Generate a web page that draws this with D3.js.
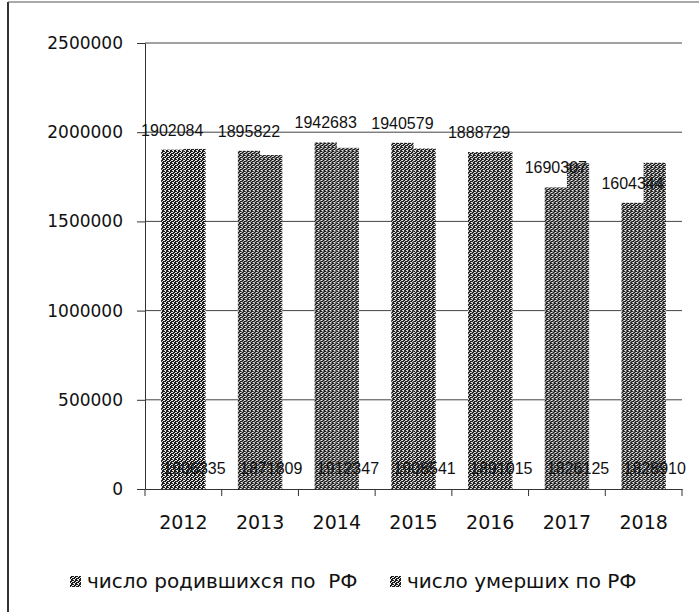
<!DOCTYPE html>
<html>
<head>
<meta charset="utf-8">
<script src="https://cdn.jsdelivr.net/npm/d3@7"></script>
<style>
  body { margin: 0; background: #fff; }
  svg { display: block; }
</style>
</head>
<body>
<div id="chart"></div>
<script>
const years = ['2012', '2013', '2014', '2015', '2016', '2017', '2018'];
const births = [1902084, 1895822, 1942683, 1940579, 1888729, 1690307, 1604344];
const deaths = [1906335, 1871809, 1912347, 1908541, 1891015, 1826125, 1828910];
const yTicks = [0, 500000, 1000000, 1500000, 2000000, 2500000];
const seriesNames = ['число родившихся по  РФ', 'число умерших по РФ'];

const W = 699;
const H = 612;
const margin = { top: 43, right: 17, bottom: 123, left: 145 };
const width = W - margin.left - margin.right;
const height = H - margin.top - margin.bottom;

const svg = d3
  .select('#chart')
  .append('svg')
  .attr('width', W)
  .attr('height', H);

// scanned-looking texture for the bars
const pat = svg
  .append('defs')
  .append('pattern')
  .attr('id', 'tex')
  .attr('width', 4)
  .attr('height', 4)
  .attr('patternUnits', 'userSpaceOnUse');
pat.append('rect').attr('width', 4).attr('height', 4).attr('fill', '#1c1c1c');
[[0, 0], [2, 1], [1, 2], [3, 3], [3, 1], [0, 3]].forEach(([px, py]) => {
  pat
    .append('rect')
    .attr('x', px)
    .attr('y', py)
    .attr('width', 1)
    .attr('height', 1)
    .attr('fill', '#e8e8e8');
});

// frame of the scan
svg
  .append('line')
  .attr('x1', 8)
  .attr('x2', 8)
  .attr('y1', 2)
  .attr('y2', H)
  .attr('stroke', '#333')
  .attr('stroke-width', 2);
svg
  .append('line')
  .attr('x1', 8)
  .attr('x2', W)
  .attr('y1', 2)
  .attr('y2', 2)
  .attr('stroke', '#555')
  .attr('stroke-width', 1);

const g = svg
  .append('g')
  .attr('transform', `translate(${margin.left},${margin.top})`);

const xScale = d3.scaleBand().domain(years).range([0, width]).padding(0);
const yScale = d3.scaleLinear().domain([0, 2500000]).range([height, 0]);

const groupWidth = xScale.bandwidth() * 0.58;
const x1 = d3
  .scaleBand()
  .domain([0, 1])
  .range([(xScale.bandwidth() - groupWidth) / 2, (xScale.bandwidth() + groupWidth) / 2]);

// gridlines
g.append('g')
  .selectAll('line')
  .data(yTicks.slice(1))
  .enter()
  .append('line')
  .attr('x1', 0)
  .attr('x2', width)
  .attr('y1', (d) => yScale(d))
  .attr('y2', (d) => yScale(d))
  .attr('stroke', '#444')
  .attr('stroke-width', 1);

// y axis
const yAxis = g
  .append('g')
  .call(d3.axisLeft(yScale).tickValues(yTicks).tickSize(8).tickPadding(14).tickFormat(d3.format('d')));
yAxis.select('.domain').attr('stroke', '#333');
yAxis.selectAll('line').attr('stroke', '#333');
yAxis
  .selectAll('text')
  .style('font-family', '"DejaVu Sans", Verdana, sans-serif')
  .style('font-size', '17px')
  .attr('fill', '#111');

// x axis
const xAxis = g
  .append('g')
  .attr('transform', `translate(0,${height})`)
  .call(d3.axisBottom(xScale).tickSize(0).tickPadding(27));
xAxis.select('.domain').attr('stroke', '#333');
xAxis
  .selectAll('text')
  .style('font-family', '"DejaVu Sans", Verdana, sans-serif')
  .style('font-size', '19px')
  .attr('fill', '#111');
g.append('g')
  .selectAll('line')
  .data(d3.range(years.length + 1))
  .enter()
  .append('line')
  .attr('x1', (i) => i * xScale.step())
  .attr('x2', (i) => i * xScale.step())
  .attr('y1', height)
  .attr('y2', height + 7)
  .attr('stroke', '#333');

const rows = years.map((y, i) => ({ year: y, values: [births[i], deaths[i]] }));

const groups = g
  .selectAll('.yr')
  .data(rows)
  .enter()
  .append('g')
  .attr('class', 'yr')
  .attr('transform', (d) => `translate(${xScale(d.year)},0)`);

groups
  .selectAll('rect')
  .data((d) => d.values.map((v, k) => ({ k, v })))
  .enter()
  .append('rect')
  .attr('x', (d) => x1(d.k))
  .attr('y', (d) => yScale(d.v))
  .attr('width', x1.bandwidth())
  .attr('height', (d) => height - yScale(d.v))
  .attr('fill', 'url(#tex)');

// birth labels above the bars
groups
  .append('text')
  .attr('x', x1(0) + x1.bandwidth() / 2)
  .attr('y', (d) => yScale(d.values[0]) - 14)
  .attr('text-anchor', 'middle')
  .style('font-family', '"Liberation Sans", Arial, sans-serif')
  .style('font-size', '16px')
  .attr('fill', '#111')
  .text((d) => d.values[0]);

// death labels at the base
groups
  .append('text')
  .attr('x', x1(1) + x1.bandwidth() / 2)
  .attr('y', height - 15)
  .attr('text-anchor', 'middle')
  .style('font-family', '"Liberation Sans", Arial, sans-serif')
  .style('font-size', '16px')
  .attr('fill', '#111')
  .text((d) => d.values[1]);

// legend
const legendX = [70, 390];
const legend = svg
  .selectAll('.legend')
  .data(seriesNames)
  .enter()
  .append('g')
  .attr('class', 'legend')
  .attr('transform', (d, i) => `translate(${legendX[i]},576)`);

legend
  .append('rect')
  .attr('width', 11)
  .attr('height', 11)
  .attr('fill', 'url(#tex)');

legend
  .append('text')
  .attr('x', 17)
  .attr('y', 12)
  .style('font-family', '"DejaVu Sans", Verdana, sans-serif')
  .style('font-size', '20px')
  .attr('fill', '#111')
  .style('white-space', 'pre')
  .text((d) => d);
</script>
</body>
</html>
